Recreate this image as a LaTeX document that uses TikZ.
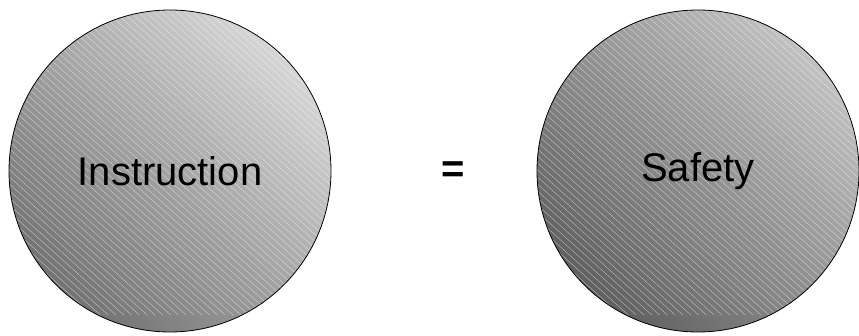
\documentclass[tikz,border=0pt]{standalone}
\usepackage{fontspec}
\setmainfont{Liberation Sans}
\usetikzlibrary{calc}
\definecolor{lightA}{RGB}{214,214,214}
\definecolor{darkA}{RGB}{114,114,114}
\definecolor{lightB}{RGB}{194,194,194}
\definecolor{darkB}{RGB}{95,95,95}
\tikzset{
  every picture/.style={draw=black, text=black},
  hatch/.style={white, opacity=0.5, line width=0.45pt},
  ball/.style 2 args={circle, draw=black, line width=0.8pt, minimum size=322pt,
    inner sep=0pt, font=\fontsize{40}{48}\selectfont,
    path picture={
      \coordinate (ctr) at (path picture bounding box.center);
      \shade[top color=#1, bottom color=#2,
        transform canvas={rotate around={-45:(ctr)}}]
        ($(ctr)+(-162,-162)$) rectangle ($(ctr)+(162,162)$);
      \foreach \k in {-40,...,40}
        \draw[hatch] ($(ctr)+(\k*7.8-180,180)$) -- ++(360,-324);
    }},
}

\begin{document}
\begin{tikzpicture}[x=1pt, y=1pt]
\useasboundingbox (0,0) rectangle (859,336);

%% left circle
\node[ball={lightA}{darkA}] (instr) at (170,165) {Instruction};

%% equals sign
\node[font=\fontsize{40}{48}\selectfont\bfseries] (eq) at (453,164) {=};

%% right circle
\node[ball={lightB}{darkB}] (safe) at (698,165) {Safety};

\end{tikzpicture}
\end{document}
